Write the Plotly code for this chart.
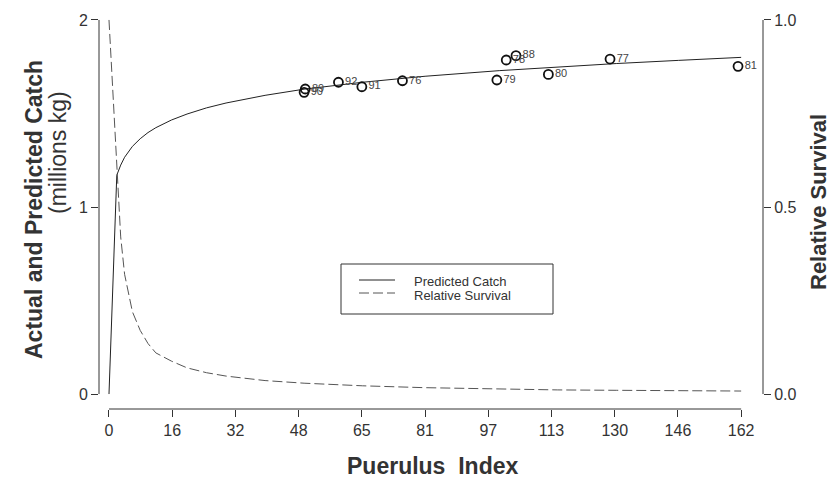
import plotly.graph_objects as go

# ---- data ----
curve_x = [0, 2, 3, 4, 6, 8, 10, 12, 16, 20, 25, 30, 40, 50, 65, 81, 100, 115, 130, 146, 162]
catch_pred = [0.0, 1.17, 1.224, 1.266, 1.324, 1.365, 1.398, 1.424, 1.465, 1.497, 1.53, 1.556,
              1.597, 1.63, 1.667, 1.699, 1.729, 1.749, 1.767, 1.784, 1.80]
survival = [1.0, 0.59, 0.42, 0.32, 0.22, 0.17, 0.135, 0.11, 0.088, 0.07, 0.057, 0.048,
            0.036, 0.029, 0.022, 0.017, 0.013, 0.011, 0.010, 0.009, 0.008]

pts_x = [50.3, 50.0, 58.8, 64.8, 75.2, 99.4, 101.8, 104.3, 112.6, 128.4, 161.2]
pts_y = [1.631, 1.613, 1.667, 1.643, 1.675, 1.679, 1.786, 1.809, 1.709, 1.791, 1.752]
pts_lab = ["89", "90", "92", "91", "76", "79", "78", "88", "80", "77", "81"]

x_tickvals = [0, 16.2, 32.4, 48.6, 64.8, 81.0, 97.2, 113.4, 129.6, 145.8, 162.0]
x_ticktext = ["0", "16", "32", "48", "65", "81", "97", "113", "130", "146", "162"]
y_tickvals = [0, 1, 2]
y_ticktext = ["0", "1", "2"]
y2_tickvals = [0, 0.5, 1.0]
y2_ticktext = ["0.0", "0.5", "1.0"]

FONT = "Liberation Sans, Arial, sans-serif"
AX = "#333333"

fig = go.Figure()
fig.add_trace(go.Scatter(x=curve_x, y=catch_pred, mode="lines",
                         line=dict(color="#222222", width=1), name="Predicted Catch",
                         yaxis="y"))
fig.add_trace(go.Scatter(x=curve_x, y=survival, mode="lines",
                         line=dict(color="#555555", width=1, dash="10px,4px"),
                         name="Relative Survival", yaxis="y2"))
fig.add_trace(go.Scatter(x=pts_x, y=pts_y, mode="markers+text", text=pts_lab,
                         textposition="middle right",
                         textfont=dict(family=FONT, size=11, color="#444444"),
                         marker=dict(symbol="circle-open", size=9, color="#111111",
                                     line=dict(color="#111111", width=1.8)),
                         yaxis="y", showlegend=False))

L, R, T, B = 99, 69, 5, 70
W, H = 832, 479
pw, ph = W - L - R, H - T - B


def px(x):
    return (x - L) / pw


def py(y):
    return (H - B - y) / ph


fig.update_layout(
    width=W, height=H,
    margin=dict(l=L, r=R, t=T, b=B),
    paper_bgcolor="white", plot_bgcolor="white",
    showlegend=False,
    font=dict(family=FONT, color=AX),
    xaxis=dict(range=[-2.56, 167.6], tickvals=x_tickvals, ticktext=x_ticktext,
               showgrid=False, zeroline=False, showline=False,
               ticks="outside", ticklen=7, tickcolor=AX, tickwidth=1,
               tickfont=dict(size=16, color=AX, family=FONT)),
    yaxis=dict(range=[-0.08, 2.08], tickvals=y_tickvals, ticktext=y_ticktext,
               showgrid=False, zeroline=False, showline=False,
               ticks="outside", ticklen=7, tickcolor=AX, tickwidth=1,
               tickfont=dict(size=16, color=AX, family=FONT)),
    yaxis2=dict(range=[-0.04, 1.04], tickvals=y2_tickvals, ticktext=y2_ticktext,
                overlaying="y", side="right",
                showgrid=False, zeroline=False, showline=False,
                ticks="outside", ticklen=7, tickcolor=AX, tickwidth=1,
                tickfont=dict(size=16, color=AX, family=FONT)),
)

# R-style detached axis lines
fig.add_shape(type="line", xref="paper", yref="y", x0=0, x1=0, y0=0, y1=2,
              line=dict(color=AX, width=1))
fig.add_shape(type="line", xref="paper", yref="y2", x0=1, x1=1, y0=0, y1=1,
              line=dict(color=AX, width=1))
fig.add_shape(type="line", xref="x", yref="paper", x0=0, x1=162, y0=0, y1=0,
              line=dict(color=AX, width=1))

# Axis titles
fig.add_annotation(xref="paper", yref="paper", x=px(34), y=py(210), textangle=-90,
                   text="<b>Actual and Predicted Catch</b>", showarrow=False,
                   xanchor="center", yanchor="middle",
                   font=dict(size=23, color=AX, family=FONT))
fig.add_annotation(xref="paper", yref="paper", x=px(58), y=py(153), textangle=-90,
                   text="(millions kg)", showarrow=False,
                   xanchor="center", yanchor="middle",
                   font=dict(size=23, color=AX, family=FONT))
fig.add_annotation(xref="paper", yref="paper", x=px(818), y=py(202), textangle=-90,
                   text="<b>Relative Survival</b>", showarrow=False,
                   xanchor="center", yanchor="middle",
                   font=dict(size=22, color=AX, family=FONT))
fig.add_annotation(xref="paper", yref="paper", x=px(432), y=py(466),
                   text="<b>Puerulus  Index</b>", showarrow=False,
                   xanchor="center", yanchor="middle",
                   font=dict(size=23, color=AX, family=FONT))

# Legend box (drawn like R's legend())
fig.add_shape(type="rect", xref="paper", yref="paper", x0=px(341), x1=px(553),
              y0=py(314), y1=py(264), line=dict(color=AX, width=1), fillcolor="white",
              layer="below")
fig.add_shape(type="line", xref="paper", yref="paper", x0=px(359), x1=px(395),
              y0=py(280), y1=py(280), line=dict(color="#222222", width=1))
fig.add_shape(type="line", xref="paper", yref="paper", x0=px(359), x1=px(395),
              y0=py(293), y1=py(293), line=dict(color="#555555", width=1, dash="10px,4px"))
fig.add_annotation(xref="paper", yref="paper", x=px(413), y=py(281),
                   text="Predicted Catch", showarrow=False, xanchor="left", yanchor="middle",
                   font=dict(size=13, color=AX, family=FONT), borderpad=0)
fig.add_annotation(xref="paper", yref="paper", x=px(413), y=py(295),
                   text="Relative Survival", showarrow=False, xanchor="left", yanchor="middle",
                   font=dict(size=13, color=AX, family=FONT), borderpad=0)

fig.write_html("out.html")
